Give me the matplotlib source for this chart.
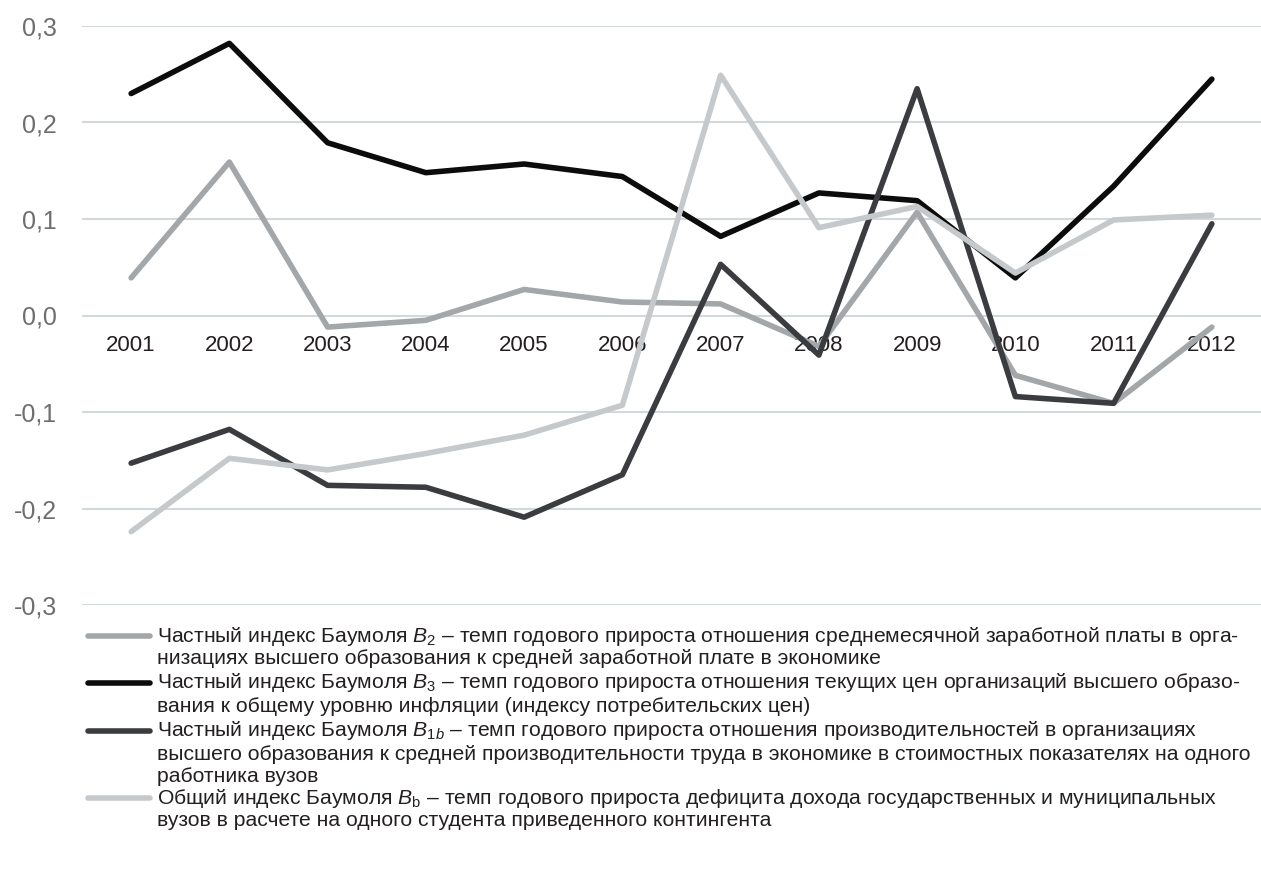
import matplotlib
matplotlib.use('Agg')
import matplotlib.pyplot as plt
from matplotlib.lines import Line2D
from matplotlib.ticker import FuncFormatter

plt.rcParams['font.family'] = ['Liberation Sans', 'DejaVu Sans']
plt.rcParams['mathtext.fontset'] = 'custom'
plt.rcParams['mathtext.rm'] = 'Liberation Sans'
plt.rcParams['mathtext.it'] = 'Liberation Sans:italic'

# data
years = ['2001', '2002', '2003', '2004', '2005', '2006',
         '2007', '2008', '2009', '2010', '2011', '2012']
b2 = [0.039, 0.159, -0.012, -0.005, 0.027, 0.014,
      0.012, -0.032, 0.107, -0.062, -0.091, -0.012]
b3 = [0.230, 0.282, 0.179, 0.148, 0.157, 0.144,
      0.082, 0.127, 0.119, 0.039, 0.134, 0.245]
b1b = [-0.153, -0.118, -0.176, -0.178, -0.209, -0.165,
       0.053, -0.041, 0.235, -0.084, -0.091, 0.095]
bb = [-0.224, -0.148, -0.160, -0.143, -0.124, -0.093,
      0.249, 0.091, 0.113, 0.044, 0.099, 0.104]

labels = [
    ['Частный индекс Баумоля $B_2$ – темп годового прироста отношения среднемесячной заработной платы в орга-',
     'низациях высшего образования к средней заработной плате в экономике'],
    ['Частный индекс Баумоля $B_3$ – темп годового прироста отношения текущих цен организаций высшего образо-',
     'вания к общему уровню инфляции (индексу потребительских цен)'],
    ['Частный индекс Баумоля $B_{\\mathit{1b}}$ – темп годового прироста отношения производительностей в организациях',
     'высшего образования к средней производительности труда в экономике в стоимостных показателях на одного',
     'работника вузов'],
    ['Общий индекс Баумоля $B_\\mathrm{b}$ – темп годового прироста дефицита дохода государственных и муниципальных',
     'вузов в расчете на одного студента приведенного контингента'],
]

colors = ['#a4a7aa', '#0c0c0c', '#3a3c3f', '#c6c9cb']
series = [b2, b3, b1b, bb]

W, H = 1261, 885
fig = plt.figure(figsize=(W / 100, H / 100), dpi=100)
ax = fig.add_axes([82 / W, (H - 605) / H, (W - 82) / W, 579 / H])

x = list(range(len(years)))
for ys, c in zip(series, colors):
    ax.plot(x, ys, color=c, lw=4, solid_capstyle='round', solid_joinstyle='round')

ax.set_xlim(-0.5, 11.5)
ax.set_ylim(-0.3, 0.3)
ax.set_yticks([-0.3, -0.2, -0.1, 0.0, 0.1, 0.2, 0.3])
ax.yaxis.set_major_formatter(FuncFormatter(lambda v, p: f'{v:.1f}'.replace('.', ',').replace('-0,0', '0,0')))
ax.grid(axis='y', color='#d3d8db', lw=1.5)
ax.set_axisbelow(True)

ax.set_xticks(x)
ax.set_xticklabels(years)
ax.spines['bottom'].set_position(('data', 0))
for s in ax.spines.values():
    s.set_visible(False)
ax.tick_params(axis='x', length=0, pad=14, labelsize=16, labelcolor='#231f20')
ax.tick_params(axis='y', length=0, pad=18, labelsize=18, labelcolor='#6d6e71')

# legend drawn by hand so each line sits on the first row of its text
entry_y = [636, 683, 731, 798]
row_gap = 23
for lines, c, y0 in zip(labels, colors, entry_y):
    fig.add_artist(Line2D([88 / W, 150 / W], [1 - y0 / H, 1 - y0 / H],
                          transform=fig.transFigure, color=c, lw=4,
                          solid_capstyle='round'))
    for i, t in enumerate(lines):
        fig.text(157 / W, 1 - (y0 + i * row_gap) / H, t, fontsize=15.2,
                 color='#231f20', va='center', ha='left')

fig.savefig('out.png', dpi=100)
